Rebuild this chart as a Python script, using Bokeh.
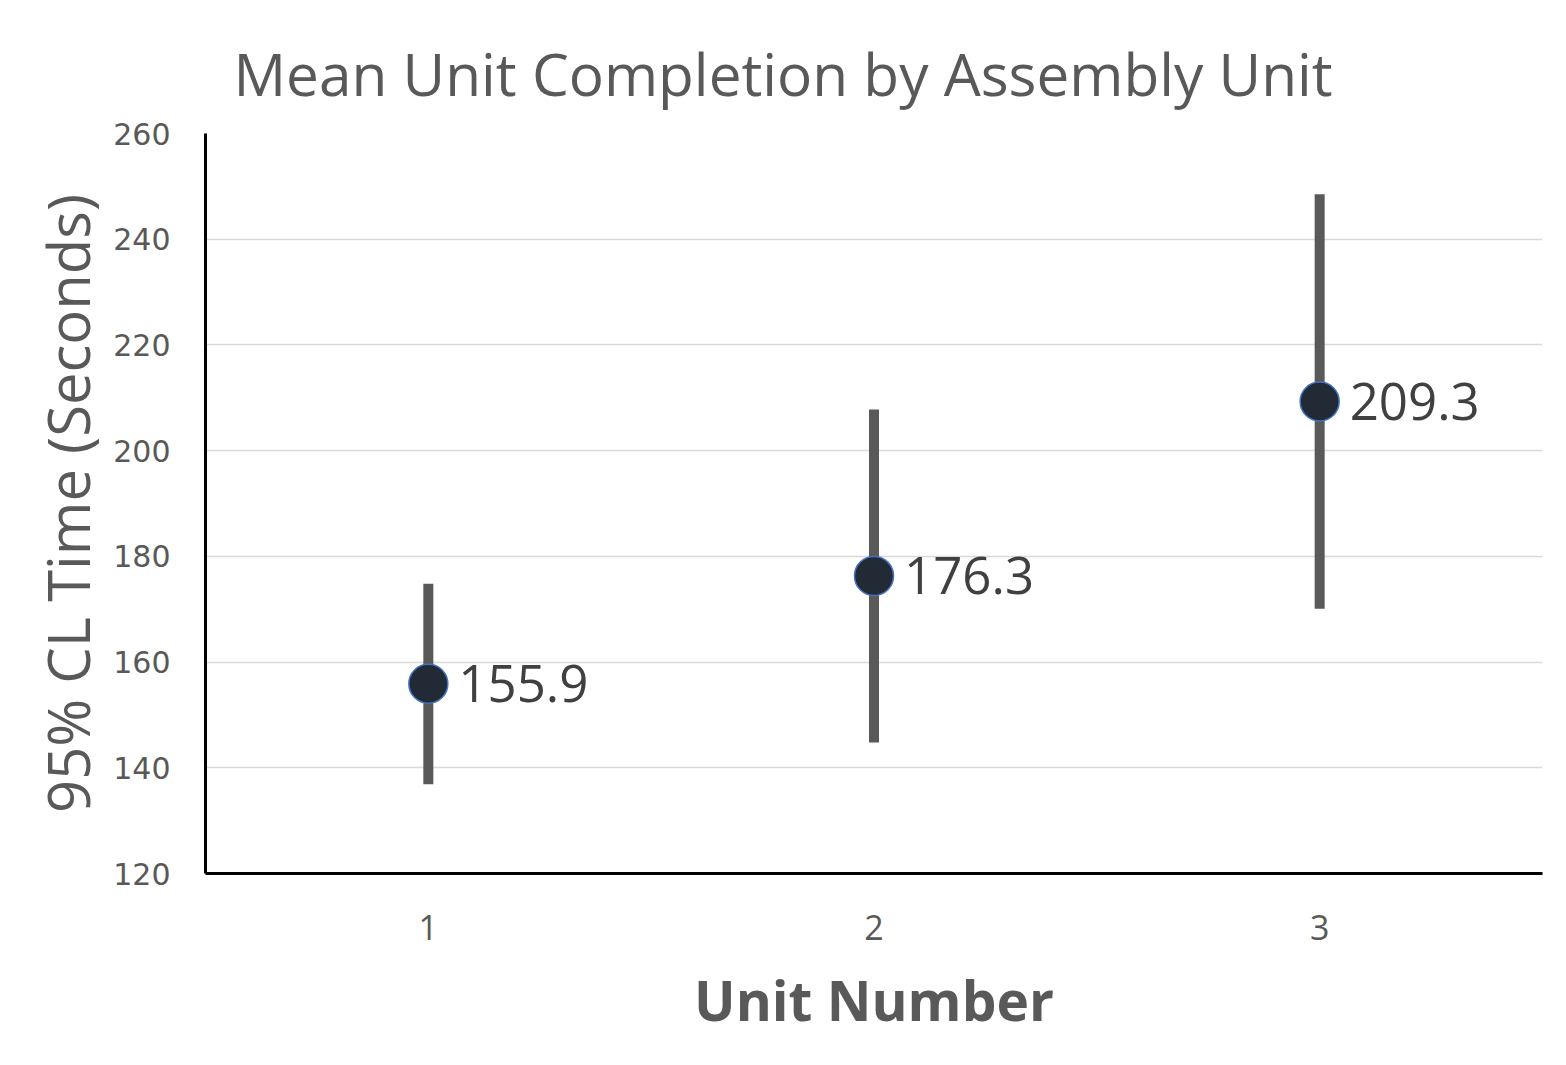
from bokeh.plotting import figure
from bokeh.models import ColumnDataSource, FixedTicker, Range1d, Title, LabelSet
from bokeh.core.properties import value
from bokeh.embed import file_html
from bokeh.resources import INLINE

title_text = "Mean Unit Completion by Assembly Unit"
units = [1, 2, 3]
unit_labels = ["1", "2", "3"]
means = [155.9, 176.3, 209.3]
lower = [136.9, 144.8, 170.1]
upper = [174.8, 207.8, 248.5]
mean_text = ["155.9", "176.3", "209.3"]
y_ticks = [120, 140, 160, 180, 200, 220, 240, 260]

src = ColumnDataSource(dict(x=units, m=means, lo=lower, hi=upper, t=mean_text))

p = figure(width=1558, height=1057, output_backend="svg", toolbar_location=None,
           x_range=Range1d(0.5, 3.5), y_range=Range1d(120, 260),
           min_border_left=205, min_border_right=16, min_border_top=133, min_border_bottom=184)
p.outline_line_color = None
p.background_fill_color = "white"
p.border_fill_color = "white"

p.title = Title(text=title_text, align="left", offset=28, vertical_align="top",
                text_font="Open Sans", text_font_size="58.5px", text_font_style="normal",
                text_color="#595959", standoff=38)

p.segment(x0="x", y0="lo", x1="x", y1="hi", source=src, line_color="#595959",
          line_width=10, line_cap="butt")
p.scatter(x="x", y="m", source=src, size=39, fill_color="#222a35",
          line_color="#4472c4", line_width=1.5)
labels = LabelSet(x="x", y="m", text="t", source=src, x_offset=30, y_offset=0,
                  text_font=value("Open Sans"), text_font_size=value("51px"),
                  text_color="#404040", text_baseline="middle", text_align="left")
p.add_layout(labels)

# axes
p.xaxis.ticker = FixedTicker(ticks=units)
p.xaxis.major_label_overrides = {u: l for u, l in zip(units, unit_labels)}
p.yaxis.ticker = FixedTicker(ticks=y_ticks)
for ax in (p.xaxis[0], p.yaxis[0]):
    ax.axis_line_color = "black"
    ax.axis_line_width = 3
    ax.major_tick_line_color = None
    ax.minor_tick_line_color = None
    ax.major_label_text_color = "#595959"
    ax.axis_label_text_color = "#595959"

p.xaxis.major_label_text_font = "Open Sans"
p.xaxis.major_label_text_font_size = "34px"
p.xaxis.major_label_standoff = 35
p.xaxis.axis_label = "Unit Number"
p.xaxis.axis_label_text_font = "Open Sans"
p.xaxis.axis_label_text_font_style = "bold"
p.xaxis.axis_label_text_font_size = "55px"
p.xaxis.axis_label_standoff = 19

p.yaxis.major_label_text_font = "DejaVu Sans"
p.yaxis.major_label_text_font_size = "30px"
p.yaxis.major_label_standoff = 29
p.yaxis.axis_label = "95% CL Time (Seconds)"
p.yaxis.axis_label_text_font = "Open Sans"
p.yaxis.axis_label_text_font_style = "normal"
p.yaxis.axis_label_text_font_size = "58px"
p.yaxis.axis_label_standoff = 3

p.xgrid.grid_line_color = None
p.ygrid.grid_line_color = "#d9d9d9"
p.ygrid.grid_line_width = 1.5

open("out.html", "w").write(file_html(p, INLINE))
